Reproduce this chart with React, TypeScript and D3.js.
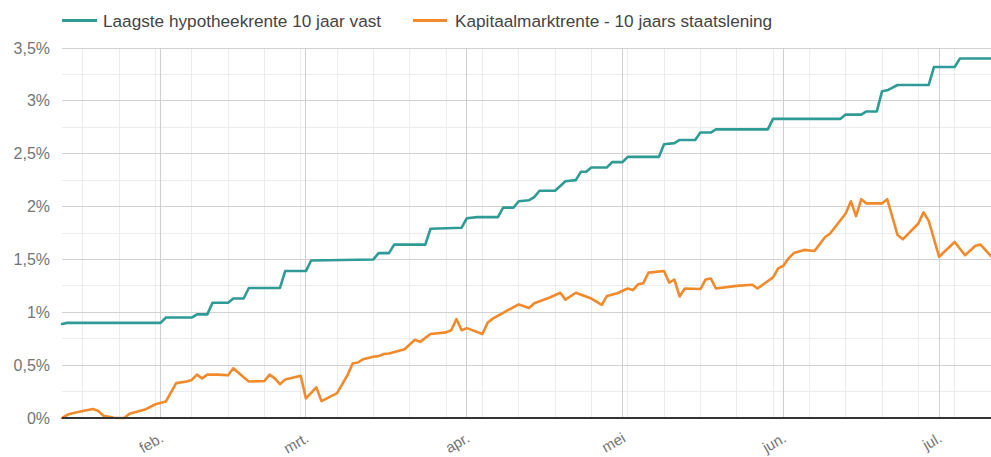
import React from "react";
import * as d3 from "d3";

// ===== data =====
const seriesNames = ["Laagste hypotheekrente 10 jaar vast", "Kapitaalmarktrente - 10 jaars staatslening"];
const seriesColors = ["#2f9b97", "#f28a2c"];

const hypoDates = [
  "2022-01-13", "2022-01-14", "2022-02-01", "2022-02-02", "2022-02-07", "2022-02-08", "2022-02-10", "2022-02-11",
  "2022-02-14", "2022-02-15", "2022-02-17", "2022-02-18", "2022-02-24", "2022-02-25", "2022-03-01", "2022-03-02",
  "2022-03-14", "2022-03-15", "2022-03-17", "2022-03-18", "2022-03-24", "2022-03-25", "2022-03-31", "2022-04-01",
  "2022-04-03", "2022-04-07", "2022-04-08", "2022-04-10", "2022-04-11", "2022-04-13", "2022-04-14", "2022-04-15",
  "2022-04-18", "2022-04-20", "2022-04-22", "2022-04-23", "2022-04-24", "2022-04-25", "2022-04-28", "2022-04-29",
  "2022-05-01", "2022-05-02", "2022-05-08", "2022-05-09", "2022-05-11", "2022-05-12", "2022-05-15", "2022-05-16",
  "2022-05-18", "2022-05-19", "2022-05-29", "2022-05-30", "2022-06-12", "2022-06-13", "2022-06-16", "2022-06-17",
  "2022-06-19", "2022-06-20", "2022-06-21", "2022-06-23", "2022-06-29", "2022-06-30", "2022-07-04", "2022-07-05",
  "2022-07-11",
];
const hypoValues = [
  0.89, 0.9, 0.9, 0.95, 0.95, 0.98, 0.98, 1.09,
  1.09, 1.13, 1.13, 1.23, 1.23, 1.39, 1.39, 1.49,
  1.5, 1.56, 1.56, 1.64, 1.64, 1.79, 1.8, 1.89,
  1.9, 1.9, 1.99, 1.99, 2.05, 2.06, 2.09, 2.15,
  2.15, 2.24, 2.25, 2.33, 2.33, 2.37, 2.37, 2.42,
  2.42, 2.47, 2.47, 2.59, 2.6, 2.63, 2.63, 2.7,
  2.7, 2.73, 2.73, 2.83, 2.83, 2.87, 2.87, 2.9,
  2.9, 3.09, 3.1, 3.15, 3.15, 3.32, 3.32, 3.4,
  3.4,
];

const kapDates = [
  "2022-01-13", "2022-01-14", "2022-01-15", "2022-01-17", "2022-01-19", "2022-01-20", "2022-01-21", "2022-01-23",
  "2022-01-25", "2022-01-26", "2022-01-29", "2022-01-31", "2022-02-02", "2022-02-04", "2022-02-06", "2022-02-07",
  "2022-02-08", "2022-02-09", "2022-02-10", "2022-02-12", "2022-02-14", "2022-02-15", "2022-02-17", "2022-02-18",
  "2022-02-21", "2022-02-22", "2022-02-23", "2022-02-24", "2022-02-25", "2022-02-28", "2022-03-01", "2022-03-03",
  "2022-03-04", "2022-03-07", "2022-03-09", "2022-03-10", "2022-03-11", "2022-03-12", "2022-03-14", "2022-03-15",
  "2022-03-16", "2022-03-17", "2022-03-20", "2022-03-22", "2022-03-23", "2022-03-25", "2022-03-28", "2022-03-29",
  "2022-03-30", "2022-03-31", "2022-04-01", "2022-04-04", "2022-04-05", "2022-04-06", "2022-04-08", "2022-04-11",
  "2022-04-13", "2022-04-14", "2022-04-17", "2022-04-19", "2022-04-20", "2022-04-22", "2022-04-25", "2022-04-27",
  "2022-04-28", "2022-04-30", "2022-05-02", "2022-05-03", "2022-05-04", "2022-05-05", "2022-05-06", "2022-05-09",
  "2022-05-10", "2022-05-11", "2022-05-12", "2022-05-13", "2022-05-16", "2022-05-17", "2022-05-18", "2022-05-19",
  "2022-05-23", "2022-05-26", "2022-05-27", "2022-05-30", "2022-05-31", "2022-06-01", "2022-06-02", "2022-06-03",
  "2022-06-05", "2022-06-07", "2022-06-09", "2022-06-10", "2022-06-13", "2022-06-14", "2022-06-15", "2022-06-16",
  "2022-06-17", "2022-06-20", "2022-06-21", "2022-06-23", "2022-06-24", "2022-06-27", "2022-06-28", "2022-06-29",
  "2022-07-01", "2022-07-04", "2022-07-06", "2022-07-08", "2022-07-09", "2022-07-11",
];
const kapValues = [
  0.0, 0.03, 0.045, 0.066, 0.085, 0.066, 0.02, 0.003,
  0.0, 0.04, 0.08, 0.13, 0.155, 0.33, 0.345, 0.36,
  0.41, 0.375, 0.41, 0.41, 0.405, 0.47, 0.385, 0.345,
  0.35, 0.41, 0.375, 0.32, 0.365, 0.4, 0.185, 0.29,
  0.16, 0.235, 0.405, 0.515, 0.525, 0.555, 0.58, 0.585,
  0.605, 0.61, 0.65, 0.74, 0.72, 0.795, 0.81, 0.83,
  0.935, 0.83, 0.85, 0.795, 0.9, 0.94, 0.995, 1.075,
  1.04, 1.085, 1.14, 1.185, 1.12, 1.185, 1.13, 1.07,
  1.155, 1.18, 1.225, 1.21, 1.265, 1.275, 1.375, 1.39,
  1.28, 1.31, 1.15, 1.225, 1.22, 1.31, 1.32, 1.225,
  1.25, 1.26, 1.225, 1.33, 1.415, 1.44, 1.51, 1.56,
  1.59, 1.58, 1.71, 1.745, 1.935, 2.05, 1.91, 2.07,
  2.03, 2.03, 2.07, 1.73, 1.69, 1.84, 1.945, 1.865,
  1.525, 1.665, 1.54, 1.63, 1.64, 1.53,
];

const monthLabels = ["feb.", "mrt.", "apr.", "mei", "jun.", "jul."];
const yTicks = [0, 0.5, 1, 1.5, 2, 2.5, 3, 3.5];
const yTickLabels = ["0%", "0,5%", "1%", "1,5%", "2%", "2,5%", "3%", "3,5%"];

// ===== layout =====
const W = 991;
const H = 457;
const M = { left: 62, right: 0, top: 48, bottom: 39 };
const FONT = "'Liberation Sans', Arial, sans-serif";

export default function App() {
  const parse = d3.timeParse("%Y-%m-%d");
  const start = new Date(2022, 0, 13);
  const end = new Date(2022, 6, 11);

  const x = d3.scaleTime().domain([start, end]).range([M.left, W - M.right]);
  const y = d3.scaleLinear().domain([0, 3.5]).range([H - M.bottom, M.top]);

  const series = [
    hypoDates.map((d, i) => ({ date: parse(d)!, value: hypoValues[i] })),
    kapDates.map((d, i) => ({ date: parse(d)!, value: kapValues[i] })),
  ];

  const line = d3
    .line<{ date: Date; value: number }>()
    .x((d) => x(d.date))
    .y((d) => y(d.value));

  const weeks = d3.timeMonday.range(start, end);
  const months = d3.timeMonth.range(new Date(2022, 1, 1), end);
  const minorY = d3.range(0.25, 3.5, 0.5);

  const x0 = M.left;
  const x1 = W - M.right;

  return (
    <div style={{ position: "absolute", left: 0, top: 0 }}>
      <svg width={W} height={H} style={{ display: "block", background: "#fff" }}>
        {/* legend */}
        <g fontFamily={FONT} fontSize={17.2} fill="#444">
          <line x1={62} x2={97} y1={20.5} y2={20.5} stroke={seriesColors[0]} strokeWidth={3} />
          <text x={103} y={26.5}>{seriesNames[0]}</text>
          <line x1={413} x2={447} y1={20.5} y2={20.5} stroke={seriesColors[1]} strokeWidth={3} />
          <text x={455} y={26.5}>{seriesNames[1]}</text>
        </g>

        {/* grid */}
        <g shapeRendering="crispEdges">
          {minorY.map((v) => (
            <line key={"my" + v} x1={x0} x2={x1} y1={y(v)} y2={y(v)} stroke="#ececec" />
          ))}
          {weeks.map((d) => (
            <line key={"w" + d.getTime()} x1={x(d)} x2={x(d)} y1={M.top} y2={H - M.bottom} stroke="#ececec" />
          ))}
          {yTicks.slice(1).map((v) => (
            <line key={"y" + v} x1={x0} x2={x1} y1={y(v)} y2={y(v)} stroke="#d2d2d2" />
          ))}
          {months.map((d) => (
            <line key={"m" + d.getTime()} x1={x(d)} x2={x(d)} y1={M.top} y2={H - M.bottom} stroke="#cfcfcf" />
          ))}
        </g>

        {/* series */}
        {series.map((s, i) => (
          <path
            key={i}
            d={line(s) || ""}
            fill="none"
            stroke={seriesColors[i]}
            strokeWidth={2.6}
            strokeLinejoin="round"
            strokeLinecap="round"
          />
        ))}

        {/* axis baseline */}
        <line x1={x0} x2={x1} y1={y(0)} y2={y(0)} stroke="#333" strokeWidth={1.2} shapeRendering="crispEdges" />

        {/* y labels */}
        <g fontFamily={FONT} fontSize={16} fill="#757575" textAnchor="end">
          {yTicks.map((v, i) => (
            <text key={v} x={50} y={y(v)} dy="0.35em">
              {yTickLabels[i]}
            </text>
          ))}
        </g>

        {/* x labels */}
        <g fontFamily={FONT} fontSize={15} fill="#757575" textAnchor="end">
          {months.map((d, i) => (
            <text key={i} transform={`translate(${x(d) + 4},${441}) rotate(-30)`}>
              {monthLabels[i]}
            </text>
          ))}
        </g>
      </svg>
    </div>
  );
}
